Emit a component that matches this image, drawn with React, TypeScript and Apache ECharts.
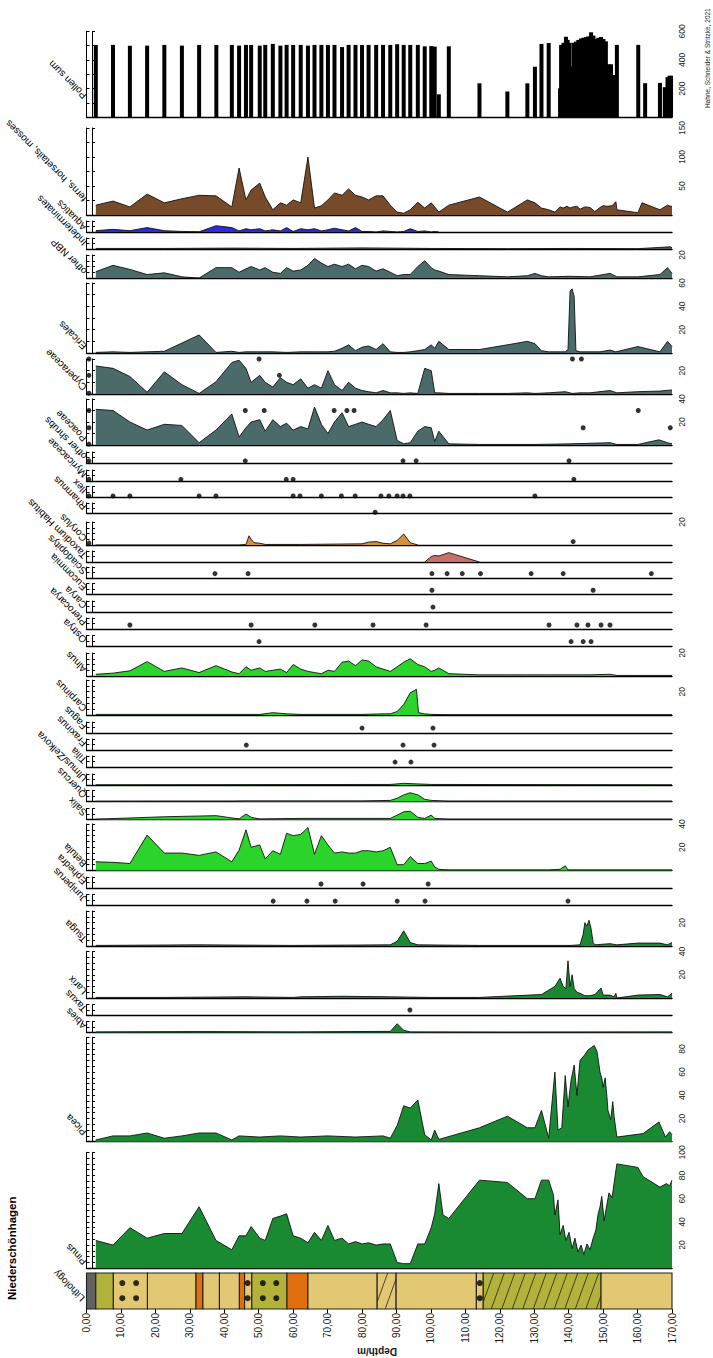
import React, { useEffect, useRef } from 'react';
import * as echarts from 'echarts';

type P = [number, number];

const DEPTH_MIN = 0;
const DEPTH_MAX = 170;
const DEPTH_STEP = 10;

const POLLEN_SUM: P[] = [[2.7,505],[7.7,505],[12.6,500],[17.6,500],[22.6,505],[27.7,500],[32.7,505],[37.7,505],[42.2,505],[44.3,500],[46.3,505],[47.8,505],[50.3,500],[51.9,505],[54.1,512],[56.3,500],[58.1,505],[60.0,505],[62.2,505],[64.3,500],[66.2,505],[68.2,505],[70.1,505],[72.0,505],[74.2,490],[76.1,505],[78.1,505],[80.0,505],[81.9,505],[84.1,505],[86.1,505],[88.2,505],[90.2,510],[92.1,505],[94.0,505],[96.2,505],[98.2,495],[100.1,497],[101.1,493],[102.3,160],[105.2,495],[114.1,237],[122.2,180],[128.0,237],[130.2,353],[132.1,512],[134.2,518],[137.5,202],[137.8,505],[138.5,520],[139.2,562],[139.7,540],[140.2,520],[140.9,353],[141.4,520],[142.1,528],[142.8,540],[143.6,550],[144.3,555],[145.0,560],[145.7,565],[146.5,593],[147.2,570],[147.9,546],[148.6,555],[149.4,560],[150.1,546],[150.8,530],[151.5,370],[152.3,370],[153.0,295],[154.0,505],[160.2,505],[162.2,238],[166.5,240],[167.9,210],[168.7,280],[169.3,290],[169.8,290]];

const FERNS: P[] = [[2.7,17],[7.7,24],[12.6,14],[17.6,36],[22.6,21],[27.7,28],[32.7,34],[37.6,33],[42.2,14],[44.3,81],[46.3,26],[47.8,43],[50.3,55],[51.9,31],[54.1,9],[56.3,21],[58.1,17],[60.0,26],[62.2,21],[64.3,100],[66.2,12],[68.2,16],[70.1,26],[72.0,38],[74.2,34],[76.1,45],[78.1,34],[80.0,31],[81.9,26],[84.1,33],[86.1,33],[88.2,17],[90.2,5],[92.1,3],[94.0,9],[96.2,22],[98.2,12],[100.1,21],[101.1,14],[102.3,5],[105.2,17],[114.1,31],[122.2,5],[128.0,26],[130.2,21],[132.1,12],[134.2,9],[136.0,5],[137.5,14],[138.4,12],[139.5,15],[140.4,12],[141.3,14],[142.4,15],[143.3,10],[144.7,14],[146.2,13],[147.6,6],[149.1,13],[150.0,16],[151.1,15],[152.6,16],[153.7,23],[154.0,9],[160.1,4],[161.3,21],[166.5,9],[168.7,17],[169.6,15],[170,15]];

const AQUATICS: P[] = [[2.7,1.2],[7.7,2.4],[12.6,1.2],[17.6,4],[22.6,1.2],[27.7,0.5],[32.7,0.2],[37.6,5.7],[42.2,4],[44.3,1],[46.3,3],[47.8,2],[50.3,3],[51.9,1],[54.1,2],[56.3,1],[58.1,4],[60.0,0.5],[62.2,3],[64.3,2],[66.2,3],[68.2,1],[70.1,2],[72.0,3.5],[74.2,2],[76.1,1],[78.1,4],[80.0,0.5],[81.9,0.5],[84.1,0],[86.1,1],[88.2,0.5],[90.2,0],[92.1,0.5],[94.0,3],[96.2,0.5],[98.2,1],[100.1,0],[101.1,0.5],[102.3,0]];

const INDETERMINATES: P[] = [[2.7,0.5],[22.6,0.5],[42.2,0.8],[60.0,0.5],[80.0,1],[100.1,0.5],[122.2,0.3],[140.4,0.5],[160.1,0.3],[169.6,2],[170,1]];

const OTHER_NBP: P[] = [[2.7,5.5],[7.7,11],[12.6,7.5],[17.6,3],[22.6,4.5],[27.7,1],[32.7,0],[37.6,9],[42.2,9],[44.3,5],[46.3,8],[47.8,10],[50.3,7],[51.9,9],[54.1,5],[56.3,4],[58.1,9],[60.0,6],[62.2,7],[64.3,11],[66.2,17],[68.2,13],[70.1,10],[72.0,12],[74.2,10],[76.1,12],[78.1,8],[80.0,11],[81.9,10],[84.1,6],[86.1,8],[88.2,5],[90.2,2],[92.1,3],[94.0,3],[96.2,10],[98.2,15],[100.1,9],[101.1,7],[102.3,6],[105.2,3],[114.1,2],[122.2,1],[128.0,2],[130.2,4],[132.1,2],[134.2,1],[140.4,1.5],[146.2,1],[152.0,4],[154.0,1],[160.1,1],[166.5,3],[168.7,9],[170,4]];

const ERICALES: P[] = [[2.7,0.5],[7.7,1],[12.6,0.5],[17.6,1],[22.6,1.5],[27.7,8.5],[32.7,15.5],[37.6,0.5],[42.2,1.5],[44.3,0.5],[46.3,1],[50.3,1],[54.1,1],[58.1,0.5],[62.2,1],[66.2,1],[70.1,1],[72.0,1.5],[74.2,4],[76.1,7],[78.1,2],[80.0,5],[81.9,6],[84.1,3],[86.1,8],[88.2,1],[90.2,0.5],[92.1,0.5],[94.0,1],[96.2,2],[98.2,3],[100.1,7],[101.1,4],[102.3,10],[105.2,3],[114.1,3],[122.2,7],[128.0,10],[130.2,8],[132.1,2],[134.2,1],[137.5,1],[139.0,1],[139.8,3],[140.4,53],[141.0,55],[141.6,48],[142.1,2],[143.3,1],[146.2,1],[149.1,1],[152.0,2.5],[153.7,1],[160.1,5.5],[166.5,1],[168.7,10],[170,5.5]];

const CYPERACEAE: P[] = [[2.7,24],[7.7,22],[12.6,15],[17.6,1.5],[22.6,19],[27.7,8],[32.7,0.5],[37.6,10.5],[42.2,27],[44.3,29],[46.3,22],[47.8,10],[50.3,16],[51.9,10],[54.1,6],[56.3,14],[58.1,10],[60.0,8],[62.2,13],[64.3,5],[66.2,8],[68.2,5],[70.1,20],[72.0,8],[74.2,3],[76.1,10],[78.1,5],[80.0,3],[81.9,2],[84.1,1],[86.1,3],[88.2,1],[90.2,1],[92.1,0.5],[94.0,1],[96.2,0.5],[98.2,22],[100.1,20],[101.1,1],[102.3,1],[105.2,0.5],[114.1,0.5],[122.2,0.5],[128.0,1],[130.2,0.5],[134.2,1],[139.0,2],[141.0,0.5],[143.3,1],[146.2,1],[152.0,3],[154.0,1],[160.1,2],[166.5,2.5],[170,3.5]];
const CYPERACEAE_DOTS: P[] = [[0.7,30],[0.7,16],[0.7,0.7],[50.1,30],[56.0,16],[141.1,30],[143.7,30]];

const POACEAE: P[] = [[2.7,31],[7.7,30],[12.6,20],[17.6,13],[22.6,18],[27.7,17],[32.7,2],[37.6,13],[42.2,27],[44.3,7],[46.3,15],[47.8,20],[50.3,22],[51.9,12],[54.1,22],[56.3,16],[58.1,19],[60.0,13],[62.2,16],[64.3,14],[66.2,33],[68.2,18],[70.1,10],[72.0,20],[74.2,28],[76.1,16],[78.1,18],[80.0,20],[81.9,18],[84.1,16],[86.1,22],[88.2,30],[90.2,4],[92.1,1],[94.0,2],[96.2,12],[98.2,16],[100.1,15],[101.1,3],[102.3,12],[105.2,1],[114.1,0.5],[130.2,0.5],[140.4,1],[152.0,2],[154.0,0.5],[160.1,0.5],[166.2,4.5],[168.7,2],[170,1]];
const POACEAE_DOTS: P[] = [[0.7,30],[0.7,15],[0.7,0.8],[46.1,30],[51.6,30],[71.9,30],[75.6,30],[77.7,30],[144.2,15],[160.2,30],[169.5,15]];

const OTHER_SHRUBS_DOTS: P[] = [[0.7,2],[46.1,2],[91.9,2],[95.7,2],[140.1,2]];
const MYRICACEAE_DOTS: P[] = [[0.7,1.5],[27.4,1.5],[58.0,1.5],[60.0,1.5],[141.5,1.5]];
const ILEX_DOTS: P[] = [[0.7,1],[7.7,1],[12.6,1],[32.7,1],[37.6,1],[60.0,1],[62.0,1],[68.2,1],[74.0,1],[78.0,1],[85.5,1],[87.8,1],[90.2,1],[91.9,1],[93.9,1],[130.2,1]];
const RHAMNUS_DOTS: P[] = [[83.8,1]];

const CORYLUS: P[] = [[2.7,0],[44.3,0],[46.3,0.5],[47.2,8],[47.8,5],[48.6,2],[50.3,1.5],[51.9,0.5],[62.2,0.5],[80.0,1],[81.9,2.5],[84.1,3],[86.1,1.5],[88.2,1],[90.2,4],[92.1,9.5],[94.0,2],[96.2,0]];
const CORYLUS_DOTS: P[] = [[0.7,1.7],[141.3,3]];

const TAXODIUM: P[] = [[98.2,0],[100.1,5],[101.1,6],[102.3,5.5],[105.2,8.5],[114.1,0]];
const SCIADOPITYS_DOTS: P[] = [[37.3,4],[46.9,4],[100.3,4],[104.7,4],[109.1,4],[114.4,4],[129.1,4],[138.4,4],[164.0,4]];
const EUCOMMIA_DOTS: P[] = [[100.3,3.6],[147.1,3.6]];
const CARYA_DOTS: P[] = [[100.6,4.5]];
const PTEROCARYA_DOTS: P[] = [[12.6,3.6],[47.8,3.6],[66.3,3.6],[83.2,3.6],[98.6,3.6],[134.3,3.6],[142.4,3.6],[145.6,3.6],[149.4,3.6],[152.0,3.6]];
const OSTRYA_DOTS: P[] = [[50.1,4.5],[140.7,4.5],[144.2,4.5],[146.5,4.5]];

const ALNUS: P[] = [[2.7,1.5],[7.7,2.5],[12.6,4.5],[17.6,12.5],[22.6,4],[27.7,7],[32.7,3],[37.6,9],[42.2,3.5],[44.3,2],[46.3,8],[47.8,5],[50.3,7],[51.9,4],[54.1,5],[56.3,6],[58.1,3],[60.0,10],[62.2,6],[64.3,4],[66.2,3],[68.2,2],[70.1,5],[72.0,4],[74.2,12],[76.1,13],[78.1,9],[80.0,14],[81.9,13],[84.1,8],[86.1,6],[88.2,4],[90.2,8],[92.1,12],[94.0,15],[96.2,10],[98.2,8],[100.1,4],[101.1,5],[102.3,7],[105.2,2],[114.1,1],[122.2,1],[128.0,1],[134.2,1],[140.4,1],[146.2,1],[152.0,1.5],[154.0,0.5],[160.1,0.5],[170,0.5]];

const CARPINUS: P[] = [[2.7,0.5],[22.6,0.5],[50.3,0.5],[54.1,2],[58.1,1],[62.2,0.5],[80.0,0.5],[86.1,1],[88.2,1],[90.2,3],[92.1,9],[94.0,19],[95.8,22],[96.4,2],[98.2,1],[100.1,0.5],[105.2,0.3],[170,0.3]];
const FAGUS_DOTS: P[] = [[80.0,4.5],[100.6,4.5]];
const FRAXINUS_DOTS: P[] = [[46.4,4.5],[91.9,4.5],[100.9,4.5]];
const TILIA_DOTS: P[] = [[89.6,4.5],[94.2,4.5]];
const ULMUS: P[] = [[2.7,0.2],[88.2,0.5],[92.1,1.5],[96.2,1],[100.1,0.5],[170,0.2]];
const QUERCUS: P[] = [[2.7,0.2],[42.2,0.3],[46.3,0.5],[80.0,0.5],[88.2,1],[90.2,3],[92.1,6],[94.0,8],[96.2,6],[98.2,2],[100.1,1],[105.2,0.3],[170,0.3]];
const SALIX: P[] = [[2.7,0.3],[22.6,2.5],[37.6,3.5],[44.3,0.5],[46.3,5],[47.8,2],[50.3,0.5],[62.2,1],[74.2,1],[88.2,1],[90.2,4],[92.1,7],[94.0,7.5],[96.2,2],[98.2,1],[100.1,4],[101.1,1],[105.2,0.3],[170,0.3]];

const BETULA: P[] = [[2.7,7.5],[7.7,7],[12.6,6],[17.6,30.5],[22.6,15],[27.7,15],[32.7,13],[37.6,16],[42.2,7.5],[44.3,17.5],[46.3,35],[47.8,20],[50.3,22],[51.9,10],[54.1,17],[56.3,14],[58.1,32],[60.0,30],[62.2,31],[64.3,37],[66.2,14],[68.2,30],[70.1,22],[72.0,15],[74.2,16],[76.1,15],[78.1,15],[80.0,17],[81.9,17],[84.1,16],[86.1,17],[88.2,20],[90.2,5],[92.1,5],[94.0,12],[96.2,6],[98.2,6],[100.1,8],[101.1,3],[102.3,1],[105.2,0.5],[114.1,0.5],[134.2,0.5],[137.5,1],[139.0,4],[139.8,0.5],[170,0.5]];
const EPHEDRA_DOTS: P[] = [[68.1,3.6],[80.3,3.6],[99.2,3.6]];
const JUNIPERUS_DOTS: P[] = [[54.2,4],[64.0,4],[72.2,4],[90.2,4],[98.3,4],[139.8,4]];

const TSUGA: P[] = [[2.7,0.5],[32.7,1],[60.0,0.5],[88.2,1],[90.2,4],[92.1,13],[94.0,3],[96.2,1],[114.1,0.5],[140.4,0.5],[143.3,1],[144.2,10],[144.7,20],[145.3,17],[145.9,22],[146.5,15],[147.1,3],[147.6,1],[152.0,2],[154.0,1],[160.1,2.5],[166.5,2.5],[168.7,1],[170,3]];
const LARIX: P[] = [[2.7,0.5],[22.6,0.5],[46.3,1],[60.0,0.5],[62.2,1],[74.2,1.5],[88.2,1],[100.1,0.5],[114.1,0.5],[132.1,3],[136.0,10],[137.5,17],[138.4,10],[139.2,8],[139.8,32],[140.4,10],[141.0,20],[141.6,8],[142.4,5],[143.3,4],[144.7,2],[146.2,2],[147.6,3],[149.4,8.5],[150.0,2.5],[152.0,2.5],[153.2,1],[153.7,4],[154.0,0],[160.1,2.5],[166.5,3],[168.7,1],[170,4]];
const TAXUS_DOTS: P[] = [[93.9,5]];
const ABIES: P[] = [[2.7,0.5],[32.7,0.8],[60.0,0.5],[86.1,1],[88.2,1],[90.2,8],[92.1,2],[94.0,0.5],[122.2,0.3],[170,0.5]];

const PICEA: P[] = [[2.7,1.5],[7.7,5],[12.6,5],[17.6,7.5],[22.6,3],[27.7,5],[32.7,7.5],[37.6,7.5],[42.2,1.5],[44.3,5],[50.3,4],[56.3,5],[62.2,4],[70.1,5],[78.1,4],[86.1,5],[88.2,3],[90.2,14],[92.1,31],[94.0,29],[96.2,36],[98.2,6],[100.1,1.5],[101.1,10],[102.3,2],[114.1,12],[122.2,22],[128.0,12],[130.2,12],[132.1,27],[134.2,3],[136.0,60],[136.9,10],[138.0,12],[139.0,57],[139.8,30],[140.7,53],[141.6,66],[142.4,40],[143.3,70],[144.7,75],[145.6,79],[146.5,81],[147.4,83],[148.2,78],[149.1,60],[149.6,55],[150.0,47],[150.6,55],[151.1,39],[151.4,27],[152.2,19],[152.8,34.5],[153.2,21.5],[154.0,4],[161.6,7],[166.2,17],[168.1,4],[169.3,8.6],[170,6]];

const PINUS: P[] = [[2.7,24],[7.7,20],[12.6,35],[17.6,26],[22.6,30],[27.7,30],[32.7,53],[37.6,24],[42.2,16],[44.3,28],[46.3,28],[47.8,36],[50.3,26],[51.9,24],[54.1,43],[56.3,45],[58.1,47],[60.0,28],[62.2,26],[64.3,22],[66.2,31],[68.2,24],[70.1,37],[72.0,24],[74.2,26],[76.1,21],[78.1,23],[80.0,21],[81.9,22],[84.1,20],[86.1,21],[88.2,21],[90.2,5],[92.1,4],[94.0,4],[96.2,21],[98.2,21],[100.1,35],[101.1,47],[102.3,73],[103.5,46],[105.2,43],[114.1,76],[122.2,74],[128.0,60],[130.2,60],[132.1,76],[134.2,76],[135.6,63],[136.0,46],[136.9,59],[137.5,29],[138.4,37],[139.2,24],[140.1,31],[141.0,17],[141.8,26],[142.7,14],[143.6,20],[144.4,12],[145.3,21],[146.2,16],[147.1,26],[147.9,33],[148.5,46],[149.1,53],[149.6,62],[150.3,41],[150.8,50],[151.7,65],[152.6,61],[153.5,80],[154.0,90],[160.1,87],[161.6,79],[166.5,70],[168.4,73],[169.3,71],[170,76]];

const LITHO_FROM = [0, 2.7, 7.8, 17.7, 31.8, 33.8, 38.6, 44.4, 45.9, 48.0, 58.2, 64.3, 84.4, 89.9, 113.2, 115.2, 149.4];
const LITHO_TO = [2.7, 7.8, 17.7, 31.8, 33.8, 38.6, 44.4, 45.9, 48.0, 58.2, 64.3, 84.4, 89.9, 113.2, 115.2, 149.4, 170];
const LITHO_TYPE = ['gray', 'olive', 'sand', 'sand', 'orange', 'sand', 'sand', 'orange', 'sand', 'olive', 'orange', 'sand', 'sandHatch', 'sand', 'sand', 'oliveHatch', 'sand'];
const LITHO_DOTS = [10.4, 14.4, 46.8, 51.2, 55.1, 114.2];

const LITHO_STYLE: Record<string, { fill: string; hatch: boolean }> = {
  gray: { fill: '#626262', hatch: false },
  olive: { fill: '#B3B23B', hatch: false },
  sand: { fill: '#E3C874', hatch: false },
  orange: { fill: '#E26F0E', hatch: false },
  sandHatch: { fill: '#E3C874', hatch: true },
  oliveHatch: { fill: '#B3B23B', hatch: true },
};

const C_BROWN = '#774B29';
const C_BLUE = '#2A2AE6';
const C_SLATE = '#4B6B6B';
const C_LIGHT = '#2AD42A';
const C_DARK = '#1A8A32';

interface Strip {
  label: string;
  base: number;
  top: number;
  max: number;
  tick: number;
  labelStep?: number;
  labelDy?: number;
  area?: P[];
  bars?: P[];
  dots?: P[];
  color?: string;
}

const STRIPS: Strip[] = [
  { label: 'Pollen sum', base: 117.3, top: 31.3, max: 600, tick: 100, labelStep: 200, labelDy: -20, bars: POLLEN_SUM },
  { label: 'ferns, horsetails, mosses', base: 215, top: 128, max: 150, tick: 25, labelStep: 50, labelDy: -15, area: FERNS, color: C_BROWN },
  { label: 'Aquatics', base: 232, top: 221, max: 10, tick: 5, labelDy: -3, area: AQUATICS, color: C_BLUE },
  { label: 'Indeterminates', base: 249, top: 238, max: 10, tick: 5, area: INDETERMINATES, color: '#555555' },
  { label: 'other NBP', base: 278, top: 255, max: 20, tick: 5, labelStep: 20, area: OTHER_NBP, color: C_SLATE },
  { label: 'Ericales', base: 353, top: 283, max: 60, tick: 10, labelStep: 20, area: ERICALES, color: C_SLATE },
  { label: 'Cyperaceae', base: 394, top: 359, max: 30, tick: 10, labelStep: 20, area: CYPERACEAE, dots: CYPERACEAE_DOTS, color: C_SLATE },
  { label: 'Poaceae', base: 445, top: 399, max: 40, tick: 10, labelStep: 20, area: POACEAE, dots: POACEAE_DOTS, color: C_SLATE },
  { label: 'other shrubs', base: 463, top: 452, max: 10, tick: 5, dots: OTHER_SHRUBS_DOTS },
  { label: 'Myricaceae', base: 481, top: 470, max: 10, tick: 5, dots: MYRICACEAE_DOTS },
  { label: 'Ilex', base: 497, top: 486.5, max: 10, tick: 5, dots: ILEX_DOTS },
  { label: 'Rhamnus', base: 513.3, top: 503, max: 10, tick: 5, dots: RHAMNUS_DOTS },
  { label: 'Corylus', base: 545, top: 522, max: 20, tick: 5, labelStep: 20, area: CORYLUS, dots: CORYLUS_DOTS, color: '#D3913D' },
  { label: 'Taxodium Habitus', base: 562, top: 551, max: 10, tick: 5, area: TAXODIUM, color: '#C7706A' },
  { label: 'Sciadopitys', base: 578, top: 567, max: 10, tick: 5, dots: SCIADOPITYS_DOTS },
  { label: 'Eucommia', base: 594, top: 583.5, max: 10, tick: 5, dots: EUCOMMIA_DOTS },
  { label: 'Carya', base: 612, top: 601, max: 10, tick: 5, dots: CARYA_DOTS },
  { label: 'Pterocarya', base: 629, top: 618, max: 10, tick: 5, dots: PTEROCARYA_DOTS },
  { label: 'Ostrya', base: 646.5, top: 635.5, max: 10, tick: 5, dots: OSTRYA_DOTS },
  { label: 'Alnus', base: 676, top: 653, max: 20, tick: 5, labelStep: 20, area: ALNUS, color: C_LIGHT },
  { label: 'Carpinus', base: 715, top: 680, max: 30, tick: 5, labelStep: 20, area: CARPINUS, color: C_LIGHT },
  { label: 'Fagus', base: 733, top: 722, max: 10, tick: 5, dots: FAGUS_DOTS },
  { label: 'Fraxinus', base: 750, top: 739, max: 10, tick: 5, dots: FRAXINUS_DOTS },
  { label: 'Tilia', base: 767, top: 756, max: 10, tick: 5, dots: TILIA_DOTS },
  { label: 'Ulmus/Zelkova', base: 785, top: 774, max: 10, tick: 5, area: ULMUS, color: C_LIGHT },
  { label: 'Quercus', base: 801.5, top: 790.5, max: 10, tick: 5, area: QUERCUS, color: C_LIGHT },
  { label: 'Salix', base: 819.5, top: 808.5, max: 10, tick: 5, area: SALIX, color: C_LIGHT },
  { label: 'Betula', base: 870.5, top: 824, max: 40, tick: 5, labelStep: 20, area: BETULA, color: C_LIGHT },
  { label: 'Ephedra', base: 888, top: 877, max: 10, tick: 5, dots: EPHEDRA_DOTS },
  { label: 'Juniperus', base: 905.5, top: 894.5, max: 10, tick: 5, dots: JUNIPERUS_DOTS },
  { label: 'Tsuga', base: 946, top: 911, max: 30, tick: 5, labelStep: 20, area: TSUGA, color: C_DARK },
  { label: 'Larix', base: 998, top: 951.5, max: 40, tick: 5, labelStep: 20, area: LARIX, color: C_DARK },
  { label: 'Taxus', base: 1015.5, top: 1004.5, max: 10, tick: 5, dots: TAXUS_DOTS },
  { label: 'Abies', base: 1032.5, top: 1021.5, max: 10, tick: 5, area: ABIES, color: C_DARK },
  { label: 'Picea', base: 1141.7, top: 1037.3, max: 90, tick: 5, labelStep: 20, labelDy: -8, area: PICEA, color: C_DARK },
  { label: 'Pinus', base: 1268.3, top: 1152.3, max: 100, tick: 5, labelStep: 20, area: PINUS, color: C_DARK },
];

const LITHO_TOP = 1273;
const LITHO_H = 36;
const GRID_LEFT = 86.5;
const GRID_RIGHT = 713 - 672;
const FONT = '"Liberation Sans", Arial, Helvetica, sans-serif';

function buildOption() {
  const grid: any[] = [];
  const xAxis: any[] = [];
  const yAxis: any[] = [];
  const series: any[] = [];
  const graphic: any[] = [];

  STRIPS.forEach((s, i) => {
    grid.push({ left: GRID_LEFT, right: GRID_RIGHT, top: s.top, height: s.base - s.top });
    xAxis.push({
      type: 'value', gridIndex: i, min: DEPTH_MIN, max: DEPTH_MAX,
      axisLine: { show: true, onZero: false, lineStyle: { color: '#000', width: 1.4 } },
      axisTick: { show: false }, axisLabel: { show: false }, splitLine: { show: false },
    });
    const step = s.labelStep;
    yAxis.push({
      type: 'value', gridIndex: i, position: 'right', offset: 2, min: 0, max: s.max, interval: s.tick,
      axisLine: { show: true, lineStyle: { color: '#000', width: 1 } },
      axisTick: { show: true, length: 3, lineStyle: { color: '#000', width: 1 } },
      axisLabel: {
        show: !!step, rotate: 90, fontSize: 8.5, margin: 3, color: '#222', fontFamily: FONT,
        formatter: (v: number) => (step && v > 0 && Math.abs(v % step) < 1e-6 ? String(v) : ''),
      },
      splitLine: { show: false },
    });
    const leftIdx = yAxis.length;
    yAxis.push({
      type: 'value', gridIndex: i, position: 'left', offset: -6, min: 0, max: s.max, interval: s.tick,
      axisLine: { show: true, lineStyle: { color: '#000', width: 1 } },
      axisTick: { show: true, inside: true, length: 2.5, lineStyle: { color: '#000', width: 1 } },
      axisLabel: { show: false }, splitLine: { show: false },
    });
    const yIdx = leftIdx - 1;
    if (s.bars) {
      series.push({
        type: 'bar', xAxisIndex: i, yAxisIndex: yIdx, data: s.bars, barWidth: 4,
        itemStyle: { color: '#000' }, silent: true,
      });
    }
    if (s.area) {
      series.push({
        type: 'line', xAxisIndex: i, yAxisIndex: yIdx, data: s.area, symbol: 'none', silent: true,
        lineStyle: { color: '#111', width: 0.9 }, areaStyle: { color: s.color, opacity: 1 }, z: 3,
      });
    }
    if (s.dots) {
      series.push({
        type: 'scatter', xAxisIndex: i, yAxisIndex: yIdx, data: s.dots, symbolSize: 5,
        itemStyle: { color: '#000' }, silent: true, z: 5, clip: false,
      });
    }
    graphic.push({
      type: 'text', x: 85, y: s.base + (s.labelDy ?? -5), rotation: (3 * Math.PI) / 4, silent: true,
      style: {
        text: s.label, fontSize: 10, fontFamily: FONT, fill: '#000',
        align: 'left', verticalAlign: 'middle', textAlign: 'left', textVerticalAlign: 'middle',
      },
    });
  });

  // Lithology
  const li = STRIPS.length;
  grid.push({ left: GRID_LEFT, right: GRID_RIGHT, top: LITHO_TOP, height: LITHO_H });
  xAxis.push({
    type: 'value', gridIndex: li, min: DEPTH_MIN, max: DEPTH_MAX, interval: DEPTH_STEP,
    axisLine: { show: false },
    axisTick: { show: true, length: 4, lineStyle: { color: '#000', width: 1 } },
    axisLabel: {
      show: true, rotate: 90, fontSize: 10, margin: 4, color: '#1a1a1a', fontFamily: FONT,
      formatter: (v: number) => v.toFixed(2).replace('.', ','),
    },
    splitLine: { show: false },
  });
  yAxis.push({ type: 'value', gridIndex: li, min: 0, max: 1, show: false });
  const lyIdx = yAxis.length - 1;
  const lithoData = LITHO_FROM.map((f, k) => [f, LITHO_TO[k], k]);
  series.push({
    type: 'custom', xAxisIndex: li, yAxisIndex: lyIdx, data: lithoData, silent: true,
    renderItem: (params: any, api: any) => {
      const d0 = api.value(0);
      const d1 = api.value(1);
      const k = api.value(2);
      const st = LITHO_STYLE[LITHO_TYPE[k]];
      const pA = api.coord([d0, 1]);
      const pB = api.coord([d1, 0]);
      const x0 = pA[0], x1 = pB[0], yT = pA[1], yB = pB[1];
      const children: any[] = [
        { type: 'rect', shape: { x: x0, y: yT, width: x1 - x0, height: yB - yT }, style: { fill: st.fill, stroke: 'none' } },
      ];
      if (st.hatch) {
        const dx = 13;
        for (let bx = x0 - dx; bx < x1; bx += 10.5) {
          const t0 = Math.max(0, (x0 - bx) / dx);
          const t1 = Math.min(1, (x1 - bx) / dx);
          if (t1 <= t0) continue;
          children.push({
            type: 'line',
            shape: { x1: bx + dx * t0, y1: yB - (yB - yT) * t0, x2: bx + dx * t1, y2: yB - (yB - yT) * t1 },
            style: { stroke: '#222', lineWidth: 0.8 },
          });
        }
      }
      children.push({ type: 'rect', shape: { x: x0, y: yT, width: x1 - x0, height: yB - yT }, style: { fill: 'none', stroke: '#222', lineWidth: 1.1 } });
      return { type: 'group', children };
    },
  });
  const dotData: number[][] = [];
  LITHO_DOTS.forEach((d) => { dotData.push([d, 0.72]); dotData.push([d, 0.3]); });
  series.push({
    type: 'scatter', xAxisIndex: li, yAxisIndex: lyIdx, data: dotData, symbolSize: 6,
    itemStyle: { color: '#000' }, silent: true, z: 6,
  });
  graphic.push({
    type: 'text', x: 83, y: LITHO_TOP + LITHO_H - 9, rotation: (3 * Math.PI) / 4, silent: true,
    style: { text: 'Lithology', fontSize: 10, fontFamily: FONT, fill: '#000', align: 'left', verticalAlign: 'middle', textAlign: 'left', textVerticalAlign: 'middle' },
  });
  graphic.push({
    type: 'text', x: 12, y: 1300, rotation: Math.PI / 2, silent: true,
    style: { text: 'Niederschönhagen', fontSize: 11.5, fontWeight: 'bold', fontFamily: FONT, fill: '#000', align: 'left', verticalAlign: 'middle', textAlign: 'left', textVerticalAlign: 'middle' },
  });
  graphic.push({
    type: 'text', x: 707.5, y: 108, rotation: Math.PI / 2, silent: true,
    style: { text: 'Hahne, Schneider & Stritzke, 2021', fontSize: 6.5, fontFamily: FONT, fill: '#222', align: 'left', verticalAlign: 'middle', textAlign: 'left', textVerticalAlign: 'middle' },
  });
  graphic.push({
    type: 'text', x: 377, y: 1351, rotation: Math.PI, silent: true,
    style: { text: 'Depth/m', fontSize: 10, fontWeight: 'bold', fontFamily: FONT, fill: '#1a1a1a', align: 'center', verticalAlign: 'middle', textAlign: 'center', textVerticalAlign: 'middle' },
  });

  return { animation: false, backgroundColor: '#fff', grid, xAxis, yAxis, series, graphic };
}

export default function App() {
  const ref = useRef<HTMLDivElement>(null);
  useEffect(() => {
    document.body.style.margin = '0';
    if (!ref.current) return;
    const chart = echarts.init(ref.current, null, { renderer: 'svg' });
    chart.setOption(buildOption() as any);
    return () => chart.dispose();
  }, []);
  return <div ref={ref} style={{ width: 713, height: 1358 }} />;
}
